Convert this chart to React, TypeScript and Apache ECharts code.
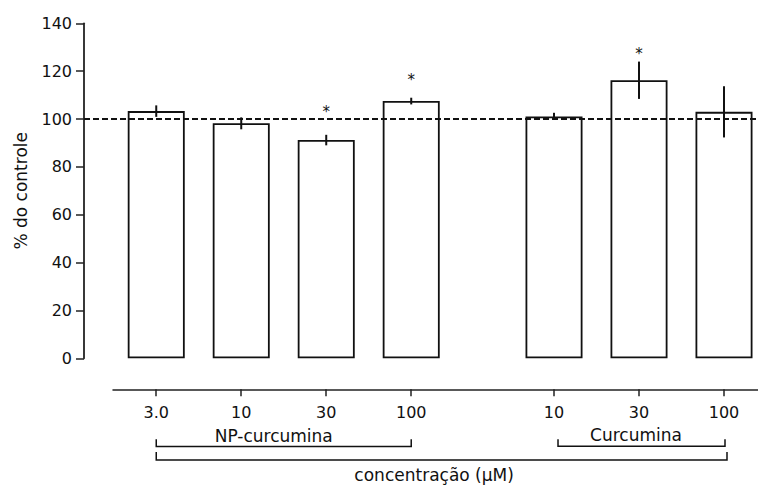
import React, { useEffect, useRef } from "react";
import * as echarts from "echarts";

// ---- data ----
const npDoses = ["3.0", "10", "30", "100"];
const curDoses = ["10", "30", "100"];
const npMeans = [103.3, 98.2, 91.2, 107.5];
const npErrors = [2.4, 2.5, 2.2, 1.4];
const curMeans = [101.1, 116.2, 103.0];
const curErrors = [1.5, 7.8, 10.7];
const npStarAt: (number | null)[] = [null, null, 104.1, 117.4];
const curStarAt: (number | null)[] = [null, 128.4, null];
const groupNames = ["NP-curcumina", "Curcumina"];
const yAxisTitle = "% do controle";
const xAxisTitle = "concentração (μM)";
const controlLevel = 100;

// ---- layout ----
const W = 758;
const H = 486;
const FONT = "DejaVu Sans";
const INK = "#111";
const GROUP_GAP = 1.68;
const GRID_LEFT = 84;
const GRID2_LEFT = 113;
const X_MIN = -0.85;
const X_MAX = 7.08;
const PX_PER_UNIT = (W - GRID_LEFT) / (X_MAX - X_MIN);
const X_MIN2 = X_MIN + (GRID2_LEFT - GRID_LEFT) / PX_PER_UNIT;

const npPos = npDoses.map((_, i) => i);
const curPos = curDoses.map((_, j) => npDoses.length - 1 + GROUP_GAP + j);
const allPos = [...npPos, ...curPos];
const allLabels = [...npDoses, ...curDoses];
const allMeans = [...npMeans, ...curMeans];
const allErrors = [...npErrors, ...curErrors];
const allStars = [...npStarAt, ...curStarAt];

export default function App() {
  const ref = useRef<HTMLDivElement>(null);
  useEffect(() => {
    document.body.style.margin = "0";
    const chart = echarts.init(ref.current!, null, { renderer: "svg" });
    const labelFor = (v: number) => {
      let best = 0;
      allPos.forEach((p, i) => {
        if (Math.abs(p - v) < Math.abs(allPos[best] - v)) best = i;
      });
      return allLabels[best];
    };
    const option: any = {
      animation: false,
      backgroundColor: "#fff",
      grid: [
        { left: GRID_LEFT, right: 0, top: 23.3, bottom: H - 358.3, containLabel: false, outerBoundsMode: "none" },
        { left: GRID2_LEFT, right: 0, top: 388.3, height: 1, containLabel: false, outerBoundsMode: "none" },
      ],
      xAxis: [
        { gridIndex: 0, type: "value", min: X_MIN, max: X_MAX, show: false },
        {
          gridIndex: 1,
          type: "value",
          min: X_MIN2,
          max: X_MAX,
          axisLine: { show: true, onZero: false, lineStyle: { color: "#222", width: 1.5 } },
          axisTick: { show: true, customValues: allPos, length: 7, lineStyle: { color: "#222", width: 1.5 } },
          axisLabel: {
            show: true,
            customValues: allPos,
            formatter: (v: number) => labelFor(v),
            margin: 15,
            fontSize: 16,
            fontFamily: FONT,
            color: INK,
          },
          splitLine: { show: false },
        },
      ],
      yAxis: [
        {
          gridIndex: 0,
          type: "value",
          min: 0,
          max: 140,
          interval: 20,
          axisLine: { show: true, onZero: false, lineStyle: { color: "#222", width: 1.8 } },
          axisTick: { show: true, length: 8, lineStyle: { color: "#222", width: 1.5 } },
          axisLabel: { margin: 12, fontSize: 16, fontFamily: FONT, color: INK },
          splitLine: { show: false },
          name: yAxisTitle,
          nameLocation: "middle",
          nameGap: 55,
          nameTextStyle: { fontSize: 17, fontFamily: FONT, color: INK },
        },
        { gridIndex: 1, type: "value", min: 0, max: 1, show: false },
      ],
      series: [
        {
          type: "bar",
          xAxisIndex: 0,
          yAxisIndex: 0,
          barWidth: 57,
          data: allPos.map((p, i) => [p, allMeans[i]]),
          itemStyle: { color: "#fff", borderColor: INK, borderWidth: 1.8 },
          markLine: {
            silent: true,
            symbol: ["none", "none"],
            label: { show: false },
            lineStyle: { type: [6, 3], color: INK, width: 1.8 },
            data: [{ yAxis: controlLevel }],
          },
          z: 2,
        },
        {
          type: "custom",
          xAxisIndex: 0,
          yAxisIndex: 0,
          clip: false,
          z: 5,
          data: allPos.map((p, i) => [p, allMeans[i] - allErrors[i], allMeans[i] + allErrors[i], allStars[i] ?? -1]),
          renderItem: (params: any, api: any) => {
            const x = api.value(0);
            const lo = api.coord([x, api.value(1)]);
            const hi = api.coord([x, api.value(2)]);
            const children: any[] = [
              {
                type: "line",
                shape: { x1: lo[0], y1: lo[1], x2: hi[0], y2: hi[1] },
                style: { stroke: INK, lineWidth: 2 },
              },
            ];
            const s = api.value(3);
            if (s > 0) {
              const sp = api.coord([x, s]);
              children.push({
                type: "text",
                x: sp[0],
                y: sp[1] + 3,
                style: { text: "*", fontSize: 15, fontFamily: FONT, fill: INK, align: "center", verticalAlign: "middle" },
              });
            }
            return { type: "group", children };
          },
        },
        {
          type: "custom",
          xAxisIndex: 0,
          yAxisIndex: 0,
          clip: false,
          z: 5,
          data: [[0, 0]],
          renderItem: (params: any, api: any) => {
            const base = api.coord([0, 0])[1];
            const px = (p: number) => api.coord([p, 0])[0];
            const bracket = (x1: number, x2: number, yLine: number, yTop: number) => ({
              type: "polyline",
              shape: { points: [[x1, yTop], [x1, yLine], [x2, yLine], [x2, yTop]] },
              style: { stroke: INK, lineWidth: 1.5, fill: null },
            });
            const text = (t: string, x: number, y: number, size: number) => ({
              type: "text",
              x,
              y,
              style: { text: t, fontSize: size, fontFamily: FONT, fill: INK, align: "center", verticalAlign: "middle" },
            });
            const npL = px(npPos[0]);
            const npR = px(npPos[npPos.length - 1]);
            const cL = px(curPos[0]);
            const cR = px(curPos[curPos.length - 1]);
            return {
              type: "group",
              children: [
                bracket(npL, npR, base + 88.3, base + 81),
                bracket(cL + 4, cR + 1, base + 88, base + 81),
                bracket(npL, cR + 3, base + 101.7, base + 93.7),
                text(groupNames[0], (npL + npR) / 2 - 10, base + 77.5, 17),
                text(groupNames[1], (cL + cR) / 2 - 3, base + 77, 17),
                text(xAxisTitle, (npL + cR) / 2 - 6, base + 117, 17),
              ],
            };
          },
        },
      ],
    };
    chart.setOption(option);
    return () => chart.dispose();
  }, []);
  return <div ref={ref} style={{ width: W, height: H }} />;
}
